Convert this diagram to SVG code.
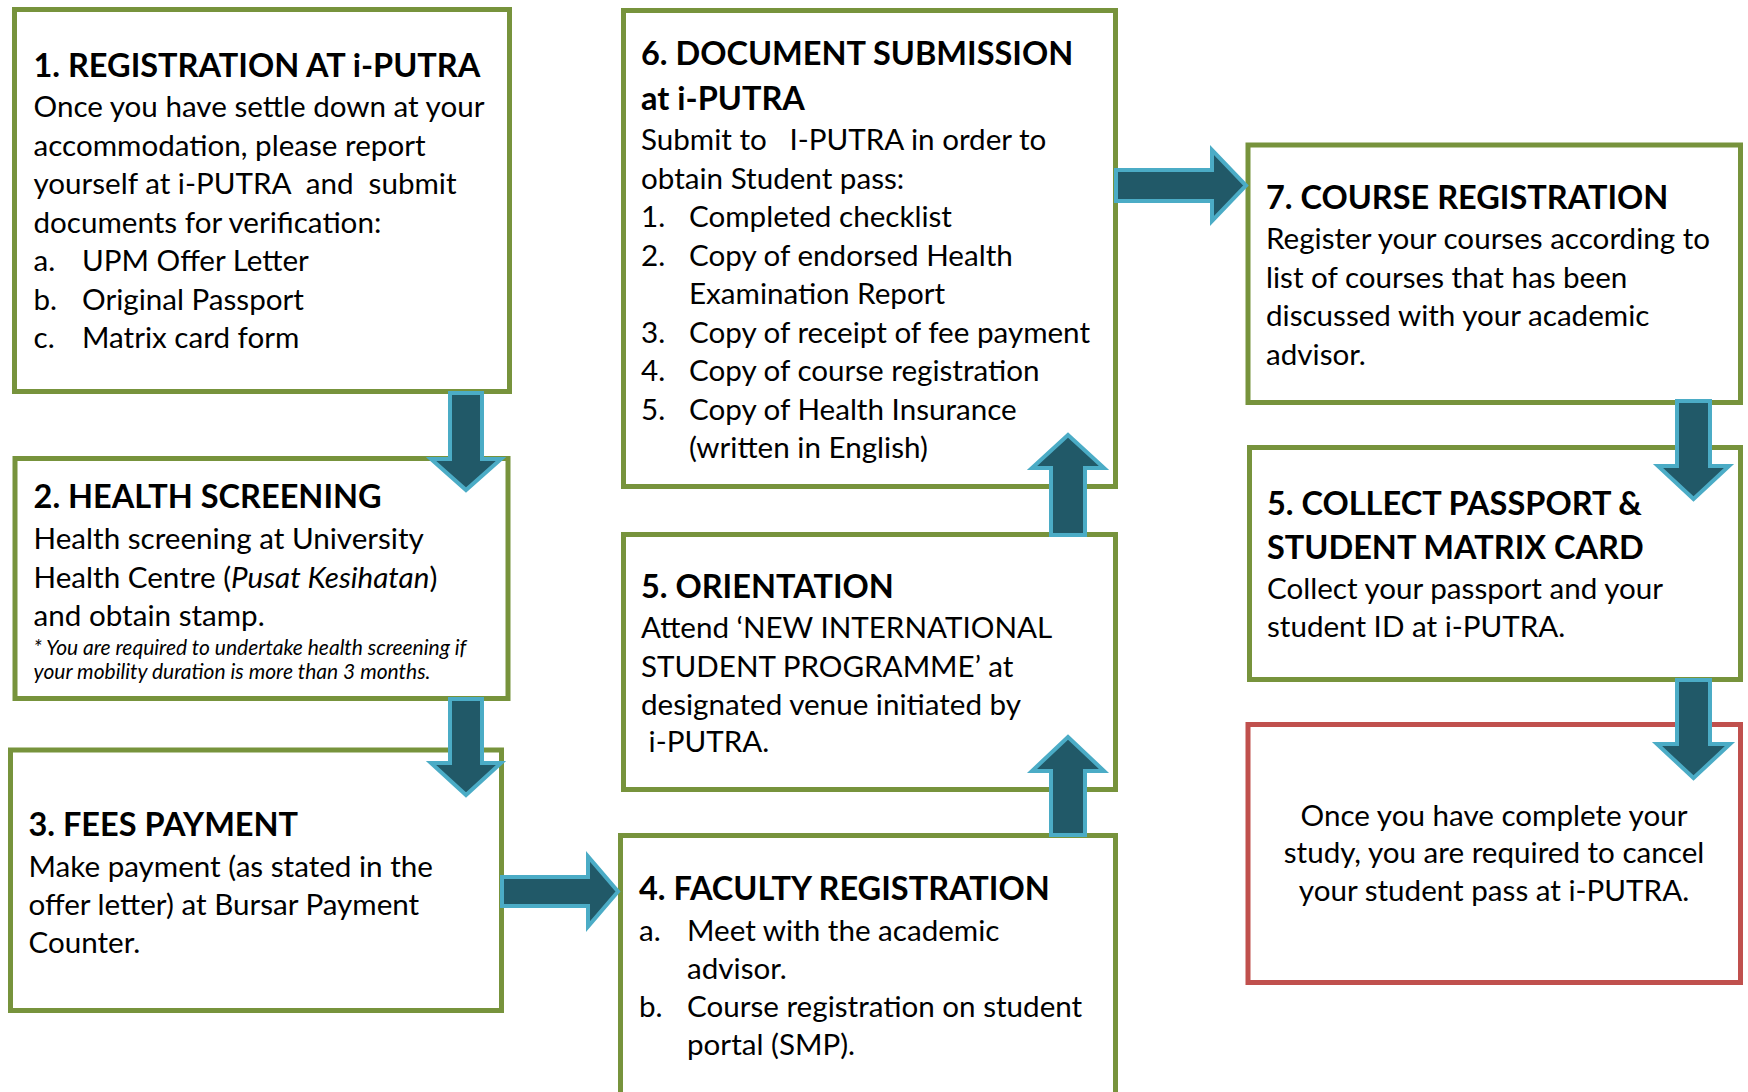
<svg xmlns="http://www.w3.org/2000/svg" width="1748" height="1092" viewBox="0 0 1748 1092">
<style>
.box{fill:#fff;stroke:#77933C;stroke-width:5}
.red{fill:#fff;stroke:#C0504D;stroke-width:5}
text{font-family:Lato,"Open Sans","Liberation Sans",sans-serif;fill:#000;white-space:pre}
.t{font-size:32.5px;font-weight:bold}
.b{font-size:29.6px}
.s{font-size:21px;font-style:italic}
.arr{fill:#215968;stroke:#4BACC6;stroke-width:4;stroke-linejoin:miter}
</style>
<rect width="1748" height="1092" fill="#fff"/>
<g id="node1">
<rect class="box" x="14.5" y="9.5" width="495" height="382"/>
<text class="t" x="33.5" y="77">1. REGISTRATION AT i-PUTRA</text>
<text class="b" x="33.5" y="117">Once you have settle down at your</text>
<text class="b" x="33.5" y="156">accommodation, please report</text>
<text class="b" x="33.5" y="194">yourself at i-PUTRA  and  submit</text>
<text class="b" x="33.5" y="233">documents for verification:</text>
<text class="b" x="33.5" y="271">a.</text><text class="b" x="82" y="271">UPM Offer Letter</text>
<text class="b" x="33.5" y="310">b.</text><text class="b" x="82" y="310">Original Passport</text>
<text class="b" x="33.5" y="348">c.</text><text class="b" x="82" y="348">Matrix card form</text>
</g>
<g id="node2">
<rect class="box" x="15" y="458.5" width="493" height="240"/>
<text class="t" x="33.6" y="508">2. HEALTH SCREENING</text>
<text class="b" x="33.6" y="549">Health screening at University</text>
<text class="b" x="33.6" y="588">Health Centre (<tspan font-style="italic">Pusat Kesihatan</tspan>)</text>
<text class="b" x="33.6" y="626">and obtain stamp.</text>
<text class="s" x="33.6" y="654.5">* You are required to undertake health screening if</text>
<text class="s" x="33.6" y="679">your mobility duration is more than 3 months.</text>
</g>
<g id="node3">
<rect class="box" x="10.5" y="750" width="491" height="260.5"/>
<text class="t" x="28.5" y="836">3. FEES PAYMENT</text>
<text class="b" x="28.5" y="876.5">Make payment (as stated in the</text>
<text class="b" x="28.5" y="914.5">offer letter) at Bursar Payment</text>
<text class="b" x="28.5" y="952.5">Counter.</text>
</g>
<g id="node4">
<rect class="box" x="620.5" y="835.5" width="495" height="300"/>
<text class="t" x="639" y="900">4. FACULTY REGISTRATION</text>
<text class="b" x="639" y="941">a.</text><text class="b" x="687" y="941">Meet with the academic</text>
<text class="b" x="687" y="978.5">advisor.</text>
<text class="b" x="639" y="1017">b.</text><text class="b" x="687" y="1017">Course registration on student</text>
<text class="b" x="687" y="1055">portal (SMP).</text>
</g>
<g id="node5">
<rect class="box" x="623.5" y="534.5" width="492" height="255"/>
<text class="t" x="641" y="598">5. ORIENTATION</text>
<text class="b" x="641" y="638">Attend ‘NEW INTERNATIONAL</text>
<text class="b" x="641" y="676.6">STUDENT PROGRAMME’ at</text>
<text class="b" x="641" y="715">designated venue initiated by</text>
<text class="b" x="641" y="752"> i-PUTRA.</text>
</g>
<g id="node6">
<rect class="box" x="623.5" y="10.5" width="492" height="476"/>
<text class="t" x="641" y="65">6. DOCUMENT SUBMISSION</text>
<text class="t" x="641" y="110">at i-PUTRA</text>
<text class="b" x="641" y="150">Submit to   I-PUTRA in order to</text>
<text class="b" x="641" y="188.5">obtain Student pass:</text>
<text class="b" x="641" y="227">1.</text><text class="b" x="689" y="227">Completed checklist</text>
<text class="b" x="641" y="265.5">2.</text><text class="b" x="689" y="265.5">Copy of endorsed Health</text>
<text class="b" x="689" y="304">Examination Report</text>
<text class="b" x="641" y="342.5">3.</text><text class="b" x="689" y="342.5">Copy of receipt of fee payment</text>
<text class="b" x="641" y="381">4.</text><text class="b" x="689" y="381">Copy of course registration</text>
<text class="b" x="641" y="419.5">5.</text><text class="b" x="689" y="419.5">Copy of Health Insurance</text>
<text class="b" x="689" y="458">(written in English)</text>
</g>
<g id="node7">
<rect class="box" x="1248" y="145" width="492.5" height="257.5"/>
<text class="t" x="1266" y="209">7. COURSE REGISTRATION</text>
<text class="b" x="1266" y="249">Register your courses according to</text>
<text class="b" x="1266" y="288">list of courses that has been</text>
<text class="b" x="1266" y="326">discussed with your academic</text>
<text class="b" x="1266" y="365">advisor.</text>
</g>
<g id="node8">
<rect class="box" x="1249.5" y="447.5" width="491" height="232"/>
<text class="t" x="1267" y="514.6">5. COLLECT PASSPORT &amp;</text>
<text class="t" x="1267" y="559">STUDENT MATRIX CARD</text>
<text class="b" x="1267" y="598.6">Collect your passport and your</text>
<text class="b" x="1267" y="637">student ID at i-PUTRA.</text>
</g>
<g id="node9">
<rect class="red" x="1248" y="724.5" width="492.5" height="258"/>
<text class="b" x="1494" y="825.7" text-anchor="middle">Once you have complete your</text>
<text class="b" x="1494" y="863" text-anchor="middle">study, you are required to cancel</text>
<text class="b" x="1494" y="900.7" text-anchor="middle">your student pass at i-PUTRA.</text>
</g>
<g id="connectors">
<polygon class="arr" points="450,393 482,393 482,459 501,459 466,490 431,459 450,459"/>
<polygon class="arr" points="450,699 482,699 482,763 501,763 466,795 431,763 450,763"/>
<polygon class="arr" points="502,877 588,877 588,856.5 618,891.5 588,926.5 588,906 502,906"/>
<polygon class="arr" points="1051,835 1051,771 1032,771 1068,737 1104,771 1085,771 1085,835"/>
<polygon class="arr" points="1051,535 1051,468 1032,468 1068,435 1104,468 1085,468 1085,535"/>
<polygon class="arr" points="1116,170 1212,170 1212,150 1246,185.5 1212,221 1212,201 1116,201"/>
<polygon class="arr" points="1677,401 1710,401 1710,466 1729,466 1693.5,499 1658,466 1677,466"/>
<polygon class="arr" points="1677,680 1710,680 1710,744 1730,744 1693.5,778 1657,744 1677,744"/>
</g>
</svg>
